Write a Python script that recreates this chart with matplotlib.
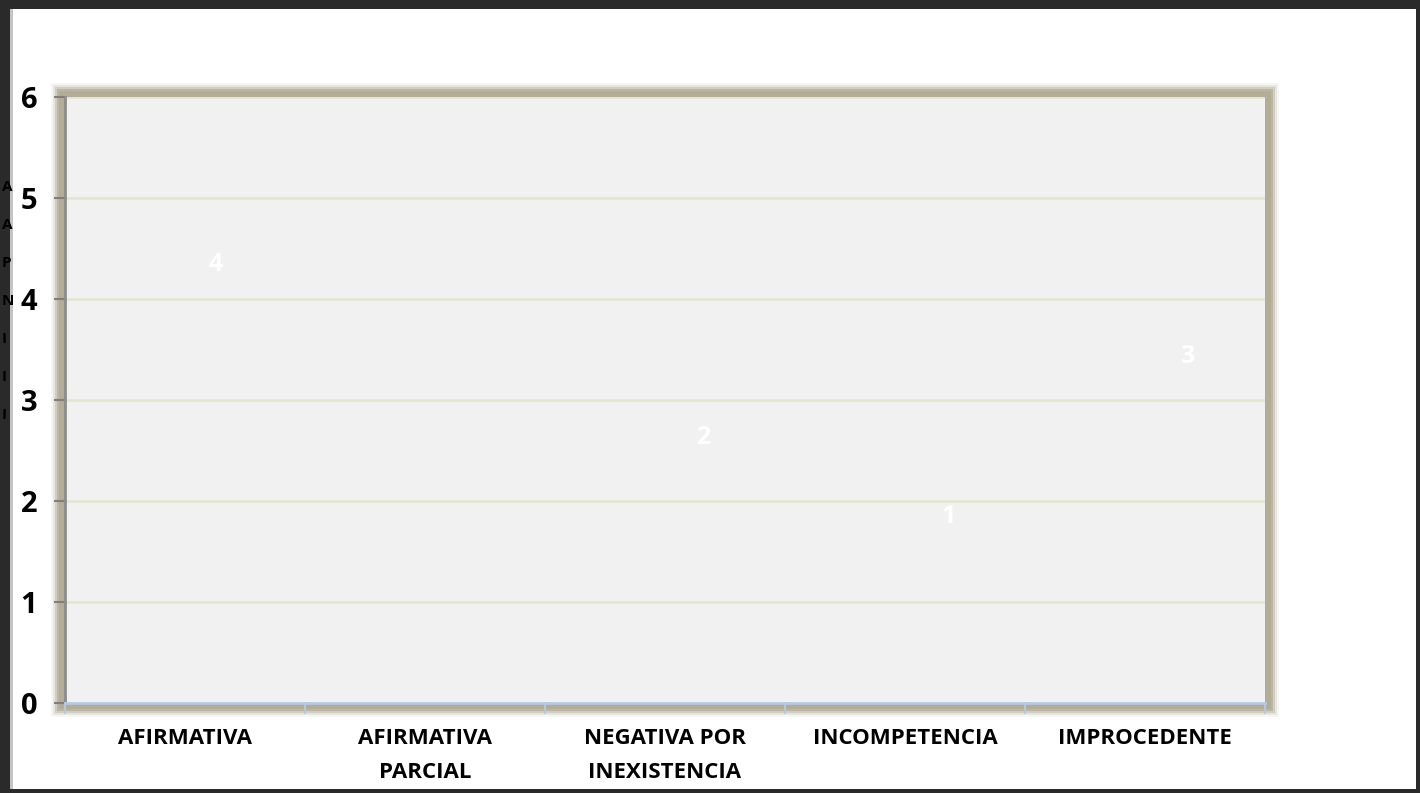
import matplotlib
matplotlib.use("Agg")
import matplotlib.pyplot as plt
from matplotlib.patches import Rectangle
import numpy as np

categories = ["AFIRMATIVA", "AFIRMATIVA\nPARCIAL", "NEGATIVA POR\nINEXISTENCIA", "INCOMPETENCIA", "IMPROCEDENTE"]
values = [4, 0, 2, 1, 3]
value_labels = ["4", "", "2", "1", "3"]
# where the (white) data labels sit in data coordinates
label_x_offset = [0.13, 0.0, 0.16, 0.18, 0.18]
label_y = [4.34, 0.0, 2.63, 1.85, 3.43]
yticks = [0, 1, 2, 3, 4, 5, 6]
legend_initials = ["A", "A", "P", "N", "I", "I", "I"]

FONT = "Open Sans"
W, H = 1420, 793
fig = plt.figure(figsize=(W / 100, H / 100), dpi=100)
fig.patch.set_facecolor("white")


def px(x0, y0, x1, y1, **kw):
    fig.patches.append(Rectangle((x0 / W, 1 - y1 / H), (x1 - x0) / W, (y1 - y0) / H,
                                 transform=fig.transFigure, **kw))


# dark outer frame
px(0, 0, 10, H, facecolor="#2a2a2a", edgecolor="none", zorder=-5)
px(0, 0, W, 9, facecolor="#2a2a2a", edgecolor="none", zorder=-5)
px(W - 4, 0, W, H, facecolor="#2a2a2a", edgecolor="none", zorder=-5)
px(0, H - 4, W, H, facecolor="#2a2a2a", edgecolor="none", zorder=-5)
px(10, 9, 13, H - 4, facecolor="#8a8a8a", edgecolor="none", zorder=-4, alpha=0.5)

# legend initials at the far left (sitting on the dark frame)
for i, t in enumerate(legend_initials):
    fig.text(2 / W, 1 - (187 + i * 38) / H, t, fontsize=11, fontweight="bold",
             color="#000000", family=FONT, ha="left", va="center", zorder=5)

# plot area
L, R, T, B = 65, 1265, 97, 703
ax = fig.add_axes([L / W, 1 - B / H, (R - L) / W, (B - T) / H])
ax.set_facecolor("#f1f1f1")

# soft tan shadow around plot area
for pad, al in [(14, 0.10), (12, 0.22), (10, 0.4), (8, 0.65), (6, 0.9)]:
    px(L - pad, T - pad, R + pad, B + pad, facecolor="#b2ab95", edgecolor="none",
       alpha=al, zorder=-3)

x = np.arange(len(categories))
ax.bar(x, values, width=0.6, color="none", edgecolor="none")

ax.set_xlim(-0.5, len(categories) - 0.5)
ax.set_ylim(0, 6)
ax.set_yticks(yticks)
ax.set_yticklabels([str(v) for v in yticks])
for yv in yticks[1:]:
    ax.axhline(yv, color="#dfe7cc", linewidth=1.8, zorder=1)

for i, t in enumerate(value_labels):
    if t:
        ax.text(x[i] + label_x_offset[i], label_y[i], t, color="white", fontsize=18,
                fontweight="bold", family=FONT, ha="center", va="center", zorder=3)

ax.set_xticks(x)
ax.set_xticklabels(categories, fontsize=16, fontweight="bold", family=FONT,
                   linespacing=1.8)
ax.tick_params(axis="x", length=0, pad=18)
for xb in np.arange(-0.5, len(categories), 1.0):
    ax.plot([xb, xb], [0, -0.1], color="#b5c8e6", linewidth=1.4, clip_on=False, zorder=4)

ax.tick_params(axis="y", length=8, width=1.5, color="#7f7f7f", pad=12)
for lab in ax.get_yticklabels():
    lab.set_fontweight("bold")
    lab.set_family(FONT)
    lab.set_fontsize(21)

for s in ["top", "right"]:
    ax.spines[s].set_visible(False)
ax.spines["left"].set_color("#8c8c8c")
ax.spines["left"].set_linewidth(2)
ax.spines["bottom"].set_color("#b5c8e6")
ax.spines["bottom"].set_linewidth(2)

fig.savefig("out.png", dpi=100)
